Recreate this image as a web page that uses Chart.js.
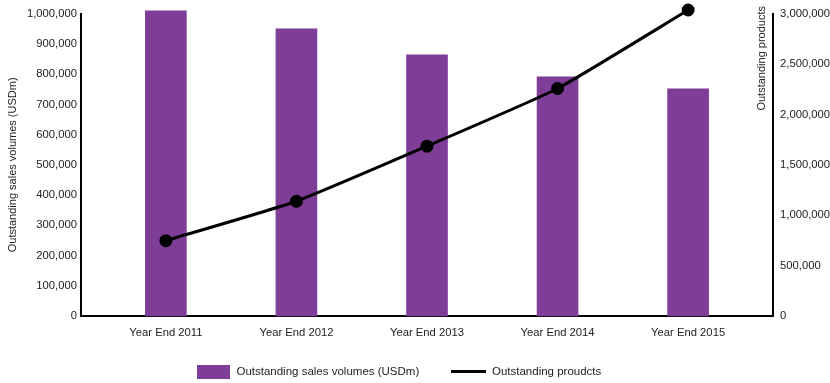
<!DOCTYPE html>
<html>
<head>
<meta charset="utf-8">
<script src="https://cdn.jsdelivr.net/npm/chart.js@4"></script>
<style>
    html, body { margin: 0; padding: 0; background: #fff; }
    #wrap { width: 830px; height: 383px; position: relative; }
</style>
</head>
<body>
<div id="wrap"><canvas id="salesChart"></canvas></div>
<script>
// Chart data
const years = ['Year End 2011', 'Year End 2012', 'Year End 2013', 'Year End 2014', 'Year End 2015'];
const salesVolumes = [1010000, 950000, 864000, 791000, 752000];
const outstandingProducts = [748000, 1139000, 1686000, 2258000, 3037000];

const purple = '#7e3d96';

Chart.defaults.font.family = '"Liberation Sans", Arial, sans-serif';
Chart.defaults.font.size = 11.25;
Chart.defaults.color = '#222';

// legend swatches (box for bars, short line for the line series)
function makeSwatch(w, h, color) {
    const c = document.createElement('canvas');
    c.width = w;
    c.height = h;
    const cx = c.getContext('2d');
    cx.fillStyle = color;
    cx.fillRect(0, 0, w, h);
    return c;
}
const barSwatch = makeSwatch(33, 14, purple);
const lineSwatch = makeSwatch(35, 3, '#000');

// right axis title sits inside the plot, next to the axis line
const rightTitle = {
    id: 'rightTitle',
    afterDraw(chart) {
        const { ctx, chartArea } = chart;
        ctx.save();
        ctx.translate(chartArea.right - 11, 6);
        ctx.rotate(-Math.PI / 2);
        ctx.font = '11px "Liberation Sans", Arial, sans-serif';
        ctx.fillStyle = '#222';
        ctx.textAlign = 'right';
        ctx.textBaseline = 'middle';
        ctx.fillText('Outstanding products', 0, 0);
        ctx.restore();
    }
};

// nudge the legend row a bit up and to the left
const legendNudge = {
    id: 'legendNudge',
    afterLayout(chart) {
        const lg = chart.legend;
        if (!lg) return;
        lg.top -= 7;
        lg.height += 7;
        lg.right -= 33;
        lg.width -= 33;
    }
};

const ctx = document.getElementById('salesChart').getContext('2d');
new Chart(ctx, {
    type: 'bar',
    data: {
        datasets: [
            {
                type: 'bar',
                label: 'Outstanding sales volumes (USDm)',
                data: years.map((_, i) => ({ x: i, y: salesVolumes[i] })),
                backgroundColor: purple,
                barThickness: 41,
                clip: false,
                yAxisID: 'y',
                order: 1
            },
            {
                type: 'line',
                label: 'Outstanding proudcts',
                data: years.map((_, i) => ({ x: i, y: outstandingProducts[i] })),
                borderColor: '#000',
                backgroundColor: '#000',
                borderWidth: 3,
                pointRadius: 5,
                pointBackgroundColor: '#000',
                tension: 0.15,
                clip: false,
                yAxisID: 'y1',
                order: 0
            }
        ]
    },
    options: {
        responsive: true,
        maintainAspectRatio: false,
        animation: false,
        layout: { padding: { top: 13, right: 0, bottom: 0, left: 0 } },
        plugins: {
            tooltip: { enabled: false },
            legend: {
                position: 'bottom',
                maxHeight: 42,
                labels: {
                    usePointStyle: true,
                    pointStyleWidth: 35,
                    padding: 32,
                    color: '#222',
                    font: { size: 11.5 },
                    sort: (a, b) => a.datasetIndex - b.datasetIndex,
                    generateLabels(chart) {
                        const items = Chart.defaults.plugins.legend.labels.generateLabels(chart);
                        items.forEach(it => {
                            it.pointStyle = it.datasetIndex === 0 ? barSwatch : lineSwatch;
                        });
                        return items;
                    }
                }
            }
        },
        scales: {
            x: {
                type: 'linear',
                offset: false,
                min: -0.65,
                max: 4.65,
                grid: { display: false, drawTicks: false },
                border: { display: true, color: '#000', width: 2 },
                afterBuildTicks(scale) {
                    scale.ticks = years.map((_, i) => ({ value: i }));
                },
                afterFit(scale) { scale.height = 25; },
                ticks: {
                    padding: 10,
                    maxRotation: 0,
                    autoSkip: false,
                    callback: function(value) {
                        return years[value];
                    }
                }
            },
            y: {
                position: 'left',
                min: 0,
                max: 1000000,
                grid: { display: false, drawTicks: false },
                border: { display: true, color: '#000', width: 2 },
                afterFit(scale) { scale.width = 81; },
                title: {
                    display: true,
                    text: 'Outstanding sales volumes (USDm)',
                    font: { size: 11 },
                    padding: { top: 6, bottom: 0 }
                },
                ticks: {
                    stepSize: 100000,
                    padding: 4,
                    callback: function(value) {
                        return value.toLocaleString('en-US');
                    }
                }
            },
            y1: {
                position: 'right',
                min: 0,
                max: 3000000,
                grid: { display: false, drawTicks: false },
                border: { display: true, color: '#000', width: 2 },
                afterFit(scale) { scale.width = 57; },
                ticks: {
                    stepSize: 500000,
                    padding: 7,
                    callback: function(value) {
                        return value.toLocaleString('en-US');
                    }
                }
            }
        }
    },
    plugins: [rightTitle, legendNudge]
});
</script>
</body>
</html>
